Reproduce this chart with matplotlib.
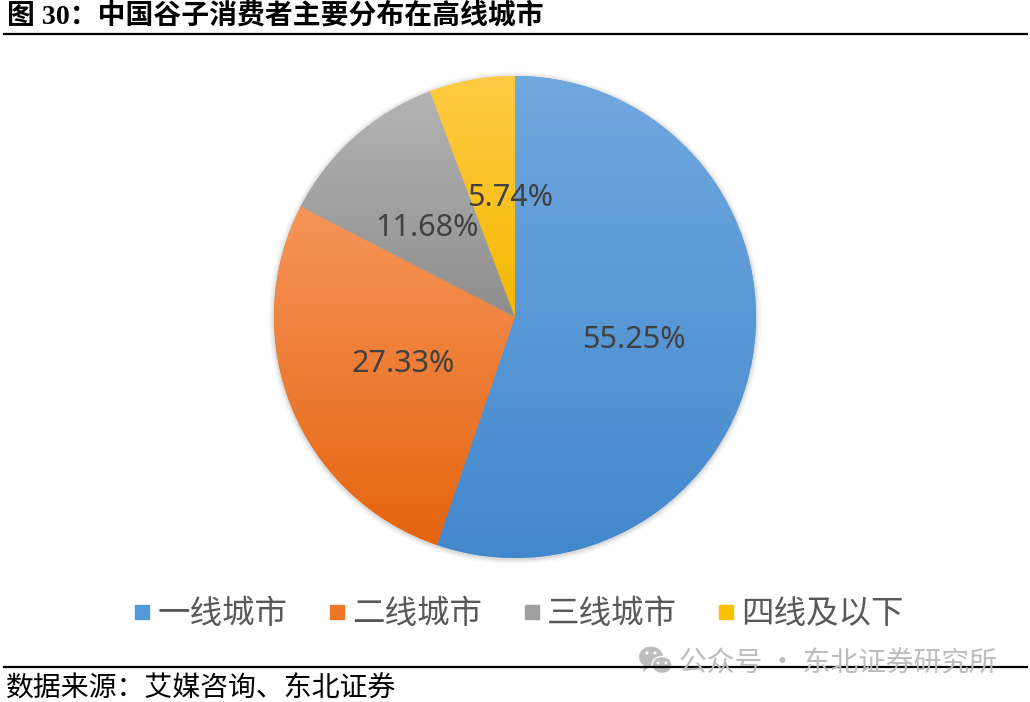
import numpy as np
import matplotlib
matplotlib.use('Agg')
import matplotlib.pyplot as plt
from matplotlib.lines import Line2D
from matplotlib.patches import Circle, Ellipse, Polygon
from matplotlib.colors import LinearSegmentedColormap

categories = ['一线城市', '二线城市', '三线城市', '四线及以下']
values = [55.25, 27.33, 11.68, 5.74]
value_labels = ['55.25%', '27.33%', '11.68%', '5.74%']
top_colors = ['#70A8E0', '#F6955A', '#B4B4B4', '#FFCB45']
bottom_colors = ['#4388CC', '#E5640E', '#8E8E8E', '#F4B800']
mid_colors = ['#5699D9', '#F0762A', '#A0A0A0', '#FBC000']
label_anchor_px = [(634, 340), (403, 364), (427, 228), (510, 198)]

W, H = 1030, 702
CJK = ['Noto Sans CJK SC', 'DejaVu Sans']
TITLE = ['Liberation Serif', 'Noto Sans CJK SC']

fig = plt.figure(figsize=(W / 100, H / 100), dpi=100, facecolor='white')

cx, cy, r = 515, 317, 241
ax = fig.add_axes([(cx - r) / W, 1 - (cy + r) / H, 2 * r / W, 2 * r / H])

# soft shadow
for grow, a in [(1.022, 0.035), (1.016, 0.05), (1.010, 0.07), (1.005, 0.09)]:
    ax.add_patch(Circle((0, -0.004), grow, fc='#606060', ec='none', alpha=a, zorder=0, clip_on=False))

wedges, _ = ax.pie(values, startangle=90, counterclock=False, radius=1,
                   colors=mid_colors, wedgeprops={'linewidth': 0})
ax.set_aspect('equal')
ax.set_xlim(-1, 1)
ax.set_ylim(-1, 1)
ax.set_autoscale_on(False)

for w, c1, c2 in zip(wedges, top_colors, bottom_colors):
    ext = w.get_path().get_extents()
    cmap = LinearSegmentedColormap.from_list('g', [c1, c2])
    im = ax.imshow(np.linspace(0, 1, 256).reshape(-1, 1), cmap=cmap, aspect='auto',
                   extent=[ext.x0, ext.x1, ext.y0, ext.y1], origin='upper', zorder=2)
    im.set_clip_path(w)
ax.set_xlim(-1, 1)
ax.set_ylim(-1, 1)

for txt, (px, py) in zip(value_labels, label_anchor_px):
    fig.text(px / W, 1 - py / H, txt, ha='center', va='center', fontsize=22,
             family='Noto Sans', color='#404040', zorder=5)

# title, rules, source
fig.text(7 / W, 1 - 16 / H, '图 30：中国谷子消费者主要分布在高线城市', family=TITLE, fontsize=20.05,
         fontweight='bold', color='black', ha='left', va='center')
fig.add_artist(Line2D([4 / W, 1027 / W], [1 - 33.5 / H] * 2, color='black', lw=1.6))
fig.add_artist(Line2D([4 / W, 1027 / W], [1 - 667 / H] * 2, color='black', lw=1.6))
fig.text(6 / W, 1 - 689 / H, '数据来源：艾媒咨询、东北证券', family=CJK, fontsize=20.1,
         color='black', ha='left', va='center')

# legend
leg_handles = [Line2D([], [], marker='s', ls='none', ms=10, mfc=c, mec=c) for c in mid_colors]
leg = fig.legend(leg_handles, categories, loc='center', bbox_to_anchor=(517.5 / W, 1 - 614 / H),
                 ncol=4, frameon=False, prop={'family': CJK, 'size': 23.4}, labelcolor='#595959',
                 handletextpad=0.12, columnspacing=1.17, handlelength=0.7, borderpad=0)

# watermark
wm = '#BDBDBD'
fig.text(679 / W, 1 - 664 / H, '公众号 · 东北证券研究所', family=CJK, fontsize=20,
         color=wm, ha='left', va='center')
ov = fig.add_axes([0, 0, 1, 1], facecolor='none')
ov.set_xlim(0, W); ov.set_ylim(H, 0); ov.axis('off')
ov.add_patch(Ellipse((651, 657), 24, 21, fc=wm, ec='none'))
ov.add_patch(Polygon([[644, 664], [643, 672], [651, 666]], fc=wm, ec='none'))
ov.add_patch(Ellipse((662, 665), 20, 17, fc=wm, ec='white', lw=1))
for x, y in [(647, 653), (655, 653)]:
    ov.add_patch(Circle((x, y), 1.6, fc='white', ec='none'))
for x, y in [(658, 663), (666, 663)]:
    ov.add_patch(Circle((x, y), 1.4, fc='white', ec='none'))

fig.savefig('out.png', dpi=100, facecolor='white')
